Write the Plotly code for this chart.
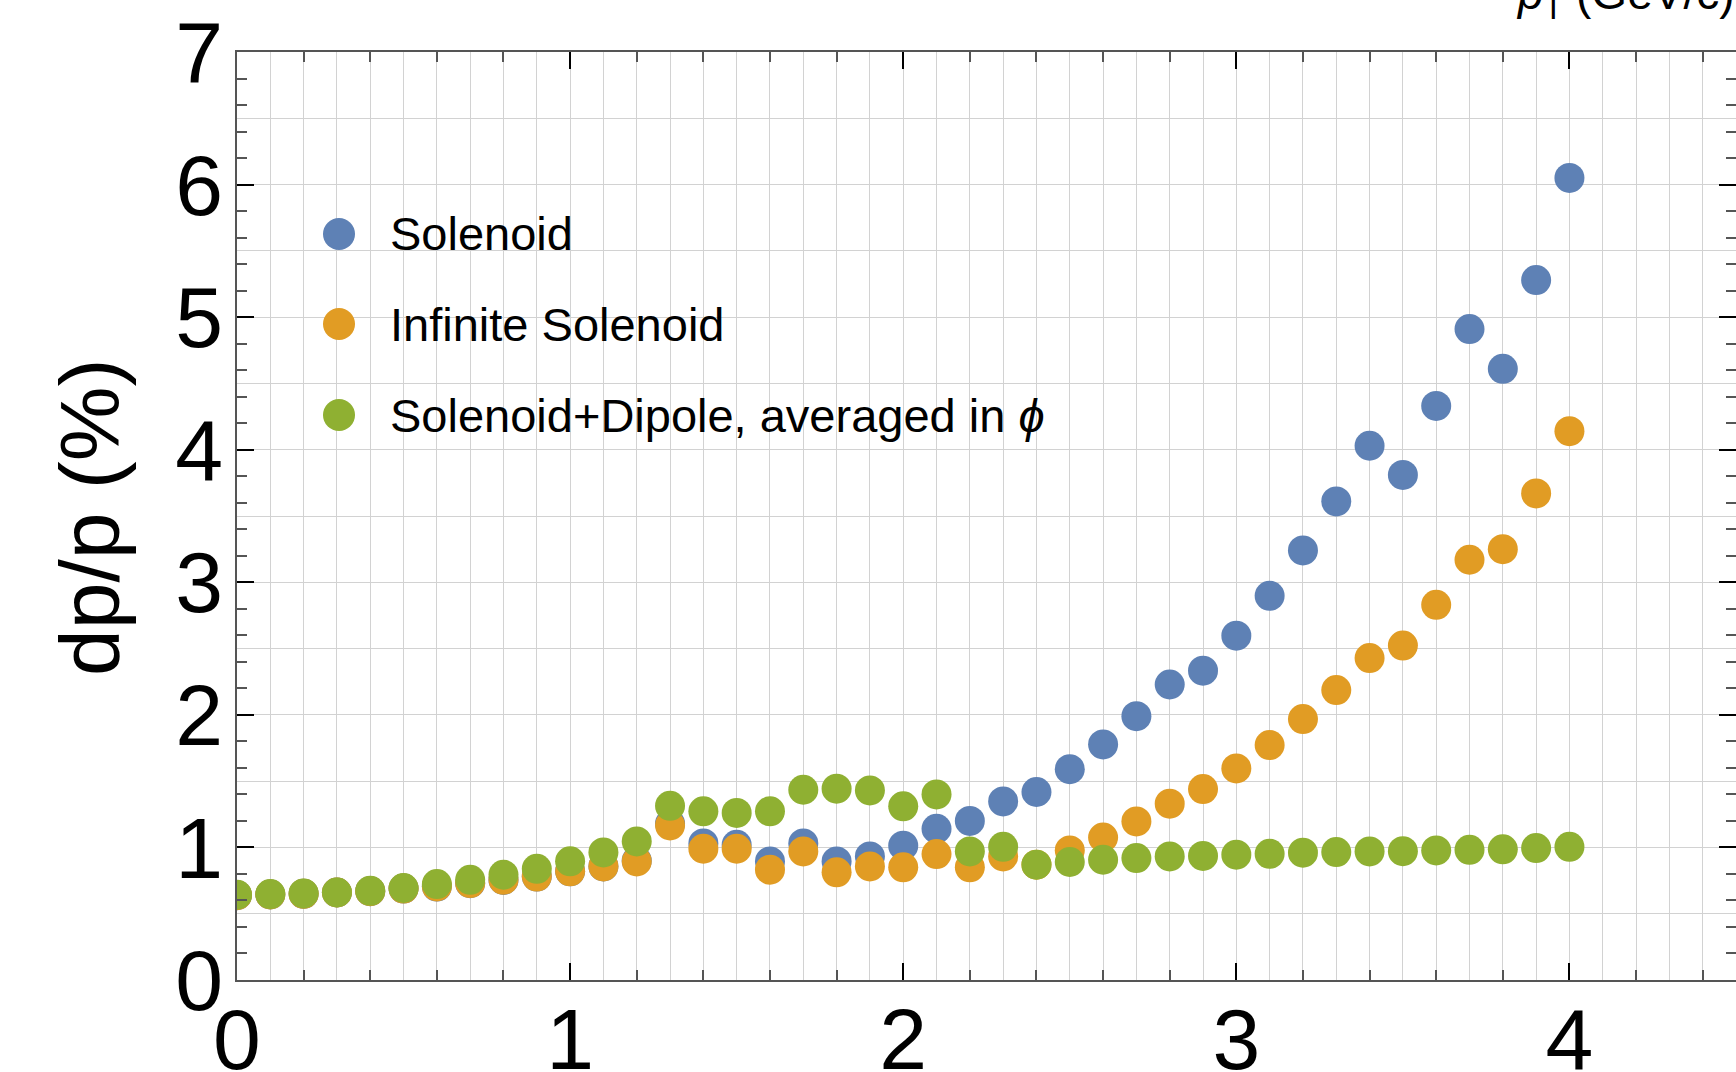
import plotly.graph_objects as go

# ---------------- data ----------------
pt = [0.0, 0.1, 0.2, 0.3, 0.4, 0.5, 0.6, 0.7, 0.8, 0.9,
      1.0, 1.1, 1.2, 1.3, 1.4, 1.5, 1.6, 1.7, 1.8, 1.9,
      2.0, 2.1, 2.2, 2.3, 2.4, 2.5, 2.6, 2.7, 2.8, 2.9,
      3.0, 3.1, 3.2, 3.3, 3.4, 3.5, 3.6, 3.7, 3.8, 3.9, 4.0]

solenoid = [0.64, 0.645, 0.65, 0.66, 0.67, 0.69, 0.705, 0.73, 0.755, 0.78,
            0.82, 0.857, 0.90, 1.18, 1.03, 1.02, 0.894, 1.03, 0.894, 0.932,
            1.013, 1.141, 1.20, 1.347, 1.418, 1.59, 1.777, 1.99, 2.229, 2.333,
            2.597, 2.898, 3.24, 3.61, 4.03, 3.81, 4.33, 4.91, 4.61, 5.28, 6.05]

infinite_solenoid = [0.64, 0.645, 0.65, 0.66, 0.67, 0.69, 0.706, 0.731, 0.756, 0.78,
                     0.82, 0.857, 0.894, 1.166, 0.99, 0.99, 0.832, 0.97, 0.812, 0.857,
                     0.85, 0.95, 0.85, 0.932, 0.87, 0.977, 1.075, 1.196, 1.33, 1.44,
                     1.596, 1.772, 1.968, 2.187, 2.428, 2.523, 2.83, 3.17, 3.25, 3.67, 4.14]

solenoid_dipole = [0.643, 0.648, 0.653, 0.66, 0.673, 0.694, 0.724, 0.756, 0.794, 0.839,
                   0.895, 0.962, 1.045, 1.314, 1.272, 1.26, 1.272, 1.435, 1.443, 1.43,
                   1.31, 1.40, 0.97, 1.005, 0.87, 0.89, 0.907, 0.92, 0.932, 0.936,
                   0.945, 0.952, 0.96, 0.965, 0.97, 0.972, 0.977, 0.982, 0.986, 0.995, 1.005]

series_names = ["Solenoid", "Infinite Solenoid", "Solenoid+Dipole, averaged in <i>ϕ</i>"]
series_values = [solenoid, infinite_solenoid, solenoid_dipole]
series_colors = ["#5e81b5", "#e19c24", "#8fb032"]

x_tick_vals = [0, 1, 2, 3, 4]
y_tick_vals = [0, 1, 2, 3, 4, 5, 6, 7]

# ---------------- figure ----------------
W, H = 1736, 1072
ML, MR, MT, MB = 237, 0, 52, 92
FONT = "Liberation Sans, Arial, Helvetica, sans-serif"
GRID = "#d2d2d2"
AXC = "#555555"

fig = go.Figure()
for name, vals, col in zip(series_names, series_values, series_colors):
    fig.add_trace(go.Scatter(
        x=pt, y=vals, mode="markers", name=name,
        marker=dict(size=30, color=col, line=dict(width=0)),
        showlegend=False,
    ))

fig.update_layout(
    width=W, height=H,
    margin=dict(l=ML, r=MR, t=MT, b=MB, autoexpand=False),
    paper_bgcolor="white", plot_bgcolor="white",
    font=dict(family=FONT, color="black"),
    xaxis=dict(
        range=[0, 4.5], tickmode="array", tickvals=x_tick_vals,
        ticktext=[str(v) for v in x_tick_vals],
        ticks="inside", ticklen=17, tickwidth=1.5, tickcolor="black",
        showline=True, linecolor=AXC, linewidth=1.5, mirror="ticks",
        showgrid=True, gridcolor=GRID, gridwidth=1, zeroline=False,
        tickfont=dict(size=86, family=FONT, color="black"),
        ticklabelstandoff=-16,
        minor=dict(dtick=0.2, tick0=0, ticks="inside", ticklen=10, tickwidth=1.5,
                   tickcolor=AXC, showgrid=True, gridcolor=GRID, gridwidth=1),
    ),
    yaxis=dict(
        range=[0, 7], tickmode="array", tickvals=y_tick_vals,
        ticktext=[str(v) for v in y_tick_vals],
        ticks="inside", ticklen=17, tickwidth=1.5, tickcolor="black",
        showline=True, linecolor=AXC, linewidth=1.5, mirror="ticks",
        showgrid=True, gridcolor=GRID, gridwidth=1, zeroline=False,
        tickfont=dict(size=86, family=FONT, color="black"),
        ticklabelstandoff=-5,
        minor=dict(dtick=0.2, tick0=0, ticks="inside", ticklen=10, tickwidth=1.5,
                   tickcolor=AXC, showgrid=False),
    ),
    xaxis2=dict(
        overlaying="x", anchor="y", range=[0, 4.5], tickmode="linear", tick0=0, dtick=0.1,
        showgrid=True, gridcolor=GRID, gridwidth=1, showticklabels=False,
        ticks="", showline=False, zeroline=False,
    ),
    yaxis2=dict(
        overlaying="y", anchor="x", range=[0, 7], tickmode="linear", tick0=0, dtick=0.5,
        showgrid=True, gridcolor=GRID, gridwidth=1, showticklabels=False,
        ticks="", showline=False, zeroline=False,
    ),
)

# helper trace so overlay subplots exist (no visible marks)
fig.add_trace(go.Scatter(x=[None], y=[None], xaxis="x2", yaxis="y2",
                         mode="markers", showlegend=False, hoverinfo="skip"))

pw = W - ML - MR
ph = H - MT - MB


def px_to_paper_x(px):
    return (px - ML) / pw


def px_to_paper_y(py):
    return (H - MB - py) / ph


# y axis title
fig.add_annotation(
    text="dp/p (%)", textangle=-90, showarrow=False,
    xref="paper", yref="paper", x=px_to_paper_x(90), y=px_to_paper_y(518),
    xanchor="center", yanchor="middle",
    font=dict(size=84, family=FONT, color="black"),
)

# x axis title (top right, partially outside the picture)
fig.add_annotation(
    text="<i>p</i><sub>T</sub> (GeV/c)", showarrow=False,
    xref="paper", yref="paper", x=px_to_paper_x(1514), y=px_to_paper_y(28),
    xanchor="left", yanchor="bottom",
    font=dict(size=46, family=FONT, color="black"),
)

# legend (drawn manually so marker size matches the plotted markers)
legend_rows_px = [234, 324, 415]
for name, col, ypx in zip(series_names, series_colors, legend_rows_px):
    fig.add_shape(
        type="circle", xref="paper", yref="paper",
        xsizemode="pixel", ysizemode="pixel",
        xanchor=px_to_paper_x(339), yanchor=px_to_paper_y(ypx),
        x0=-16, x1=16, y0=-16, y1=16,
        fillcolor=col, line=dict(width=0), layer="above",
    )
    fig.add_annotation(
        text=name, showarrow=False, xref="paper", yref="paper",
        x=px_to_paper_x(388), y=px_to_paper_y(ypx),
        xanchor="left", yanchor="middle",
        font=dict(size=47, family=FONT, color="black"),
    )

fig.write_html("out.html")
